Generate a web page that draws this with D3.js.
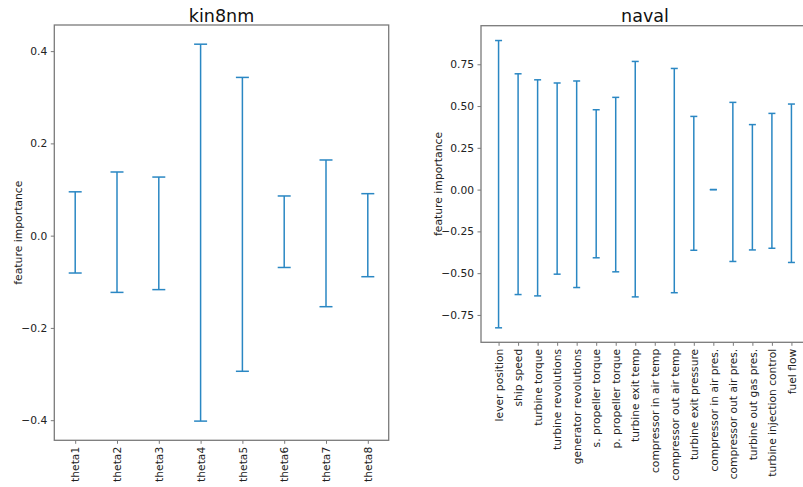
<!DOCTYPE html>
<html>
<head>
<meta charset="utf-8">
<script src="https://cdn.jsdelivr.net/npm/d3@7"></script>
<style>
  body { margin: 0; background: #fff; }
  svg { display: block; font-family: "DejaVu Sans", sans-serif; }
</style>
</head>
<body>
<svg id="chart" width="803" height="487"></svg>
<script>
// ---- data ----
const kinFeatures = ["theta1","theta2","theta3","theta4","theta5","theta6","theta7","theta8"];
const kinUpper = [0.095, 0.138, 0.127, 0.415, 0.343, 0.086, 0.164, 0.091];
const kinLower = [-0.081, -0.123, -0.117, -0.402, -0.294, -0.069, -0.154, -0.089];
const kinTicks = [-0.4, -0.2, 0.0, 0.2, 0.4];

const navalFeatures = ["lever position","ship speed","turbine torque","turbine revolutions",
  "generator revolutions","s. propeller torque","p. propeller torque","turbine exit temp",
  "compressor in air temp","compressor out air temp","turbine exit pressure",
  "compressor in air pres.","compressor out air pres.","turbine out gas pres.",
  "turbine injection control","fuel flow"];
const navalUpper = [0.892, 0.693, 0.657, 0.638, 0.650, 0.478, 0.552, 0.767, null, 0.725, 0.438, 0.0, 0.522, 0.389, 0.456, 0.512];
const navalLower = [-0.827, -0.628, -0.636, -0.506, -0.586, -0.408, -0.492, -0.642, null, -0.617, -0.363, 0.0, -0.430, -0.361, -0.351, -0.436];
const navalTicks = [-0.75, -0.5, -0.25, 0.0, 0.25, 0.5, 0.75];

const barColor = "#2a87c3";
const spineColor = "#7a7a7a";
const textColor = "#222";
const minusFmt = f => v => f(v).replace("-", "\u2212");

const svg = d3.select("#chart");

function panel(opts) {
  const { left, right, top, bottom, features, upper, lower, ticks, xDomain, yDomain, fmt, capHalf, title, ylabelX } = opts;
  const g = svg.append("g");
  const x = d3.scaleLinear().domain(xDomain).range([left, right]);
  const y = d3.scaleLinear().domain(yDomain).range([bottom, top]);

  // error bars
  const data = features.map((f, i) => ({ i, up: upper[i], lo: lower[i] })).filter(d => d.up !== null);
  const eb = g.append("g").attr("stroke", barColor).attr("stroke-width", 1.5).attr("fill", "none");
  eb.selectAll("line.v").data(data).join("line").attr("class", "v")
    .attr("x1", d => x(d.i)).attr("x2", d => x(d.i))
    .attr("y1", d => y(d.up)).attr("y2", d => y(d.lo));
  eb.selectAll("line.cu").data(data).join("line").attr("class", "cu")
    .attr("x1", d => x(d.i) - capHalf).attr("x2", d => x(d.i) + capHalf)
    .attr("y1", d => y(d.up)).attr("y2", d => y(d.up));
  eb.selectAll("line.cl").data(data).join("line").attr("class", "cl")
    .attr("x1", d => x(d.i) - capHalf).attr("x2", d => x(d.i) + capHalf)
    .attr("y1", d => y(d.lo)).attr("y2", d => y(d.lo));

  // y axis
  const ya = d3.axisLeft(y).tickValues(ticks).tickFormat(minusFmt(d3.format(fmt))).tickSize(3.5).tickPadding(3.5);
  const yg = g.append("g").attr("transform", `translate(${left},0)`).call(ya);
  // x axis
  const xa = d3.axisBottom(x).tickValues(features.map((f, i) => i)).tickFormat(i => features[i]).tickSize(3.5).tickPadding(3.5);
  const xg = g.append("g").attr("transform", `translate(0,${bottom})`).call(xa);
  xg.selectAll("text").attr("transform", "rotate(-90)").attr("text-anchor", "end")
    .attr("x", -6.5).attr("y", 0).attr("dy", "0.35em");
  [yg, xg].forEach(a => {
    a.select(".domain").remove();
    a.selectAll(".tick line").attr("stroke", spineColor).attr("stroke-width", 1);
    a.selectAll("text").attr("fill", textColor).attr("font-size", 10.7).attr("font-family", "DejaVu Sans");
  });

  // spines
  g.append("rect").attr("x", left).attr("y", top).attr("width", right - left).attr("height", bottom - top)
    .attr("fill", "none").attr("stroke", spineColor).attr("stroke-width", 1.3);

  // title
  g.append("text").attr("x", (left + right) / 2).attr("y", top - 3.5).attr("text-anchor", "middle")
    .attr("font-size", 17.5).attr("fill", "#111").text(title);
  // ylabel
  g.append("text").attr("transform", `translate(${ylabelX},${(top + bottom) / 2}) rotate(-90)`)
    .attr("text-anchor", "middle").attr("font-size", 10.8).attr("fill", textColor).text("feature importance");
}

panel({
  left: 54.3, right: 388.7, top: 25, bottom: 440.3,
  features: kinFeatures, upper: kinUpper, lower: kinLower, ticks: kinTicks,
  xDomain: [-0.5, 7.5], yDomain: [-0.4436, 0.4566], fmt: ".1f", capHalf: 6.5,
  title: "kin8nm", ylabelX: 21.5
});

panel({
  left: 481, right: 809, top: 25.7, bottom: 342.3,
  features: navalFeatures, upper: navalUpper, lower: navalLower, ticks: navalTicks,
  xDomain: [-0.9, 15.9], yDomain: [-0.9137, 0.9808], fmt: ".2f", capHalf: 3.5,
  title: "naval", ylabelX: 441.5
});
</script>
</body>
</html>
